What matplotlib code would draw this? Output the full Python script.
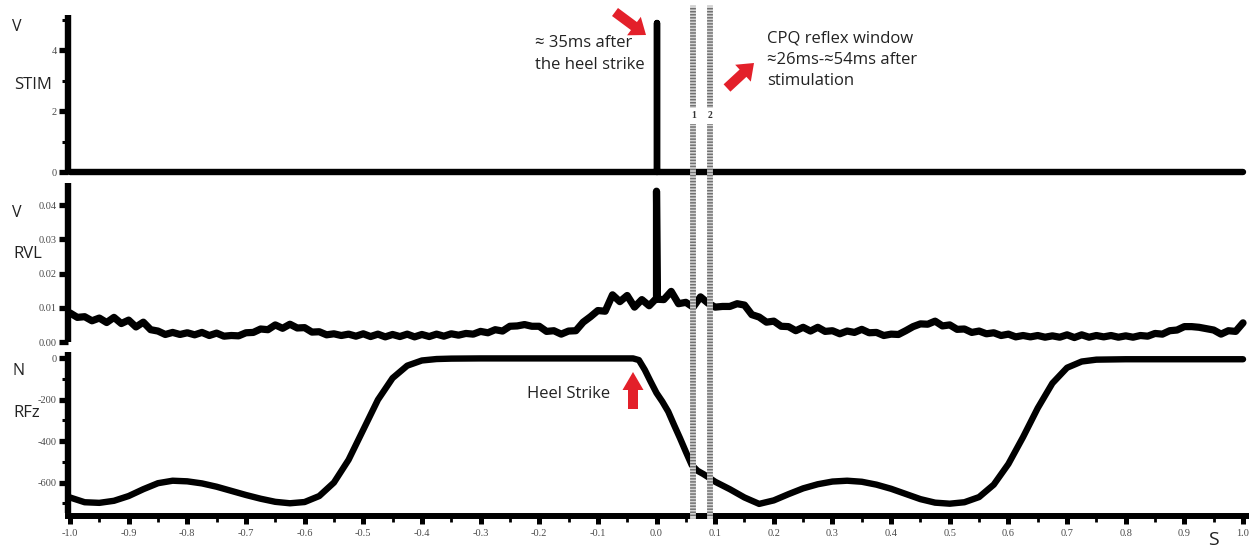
import numpy as np
import matplotlib
matplotlib.use("Agg")
import matplotlib.pyplot as plt
from matplotlib.lines import Line2D
from matplotlib.patches import FancyArrow
from matplotlib.ticker import FormatStrFormatter, MultipleLocator
from matplotlib.transforms import IdentityTransform, blended_transform_factory

plt.rcParams["axes.unicode_minus"] = False

# stimulation pulse (V)
stim_t = [-1.0, 0.0, 0.0, 0.0, 1.0]
stim_v = [0.0, 0.0, 4.9, 0.0, 0.0]

# RVL emg envelope (V), one value every 12.5 ms from -1.0 s to 1.0 s
rvl_v = [
    0.0085, 0.0072, 0.0074, 0.0062, 0.0070, 0.0057, 0.0072, 0.0054,
    0.0064, 0.0044, 0.0058, 0.0036, 0.0032, 0.0022, 0.0028, 0.0022,
    0.0027, 0.0021, 0.0028, 0.0019, 0.0026, 0.0017, 0.0019, 0.0018,
    0.0027, 0.0028, 0.0038, 0.0036, 0.0050, 0.0040, 0.0052, 0.0041,
    0.0042, 0.0029, 0.0030, 0.0021, 0.0024, 0.0019, 0.0023, 0.0017,
    0.0024, 0.0016, 0.0023, 0.0015, 0.0022, 0.0016, 0.0023, 0.0015,
    0.0022, 0.0016, 0.0023, 0.0017, 0.0024, 0.0020, 0.0025, 0.0023,
    0.0031, 0.0027, 0.0036, 0.0032, 0.0046, 0.0047, 0.0051, 0.0046,
    0.0046, 0.0031, 0.0033, 0.0023, 0.0032, 0.0033, 0.0058, 0.0074,
    0.0092, 0.0090, 0.0138, 0.0118, 0.0136, 0.0102, 0.0124, 0.0106,
    0.0128, 0.0124, 0.0148, 0.0112, 0.0116, 0.0102, 0.0132, 0.0114,
    0.0102, 0.0104, 0.0104, 0.0112, 0.0108, 0.0080, 0.0073, 0.0058,
    0.0061, 0.0046, 0.0045, 0.0033, 0.0043, 0.0032, 0.0043, 0.0031,
    0.0033, 0.0024, 0.0032, 0.0028, 0.0037, 0.0027, 0.0028, 0.0019,
    0.0023, 0.0022, 0.0033, 0.0045, 0.0053, 0.0052, 0.0061, 0.0047,
    0.0050, 0.0037, 0.0038, 0.0028, 0.0032, 0.0024, 0.0027, 0.0019,
    0.0023, 0.0015, 0.0019, 0.0015, 0.0019, 0.0014, 0.0018, 0.0014,
    0.0021, 0.0013, 0.0021, 0.0014, 0.0019, 0.0015, 0.0019, 0.0014,
    0.0018, 0.0014, 0.0019, 0.0017, 0.0025, 0.0023, 0.0033, 0.0035,
    0.0045, 0.0045, 0.0043, 0.0039, 0.0035, 0.0023, 0.0033, 0.0031,
    0.0056,
]
# stimulus artefact on the RVL channel
rvl_spike_t = [-0.0015, 0.0, 0.0015]
rvl_spike_v = [0.0125, 0.0441, 0.0125]

# right vertical ground reaction force (N)
rfz_t = [-1.0, -0.975, -0.95, -0.925, -0.9, -0.875, -0.85, -0.825, -0.8,
         -0.775, -0.75, -0.725, -0.7, -0.675, -0.65, -0.625, -0.6, -0.575,
         -0.55, -0.525, -0.5, -0.475, -0.45, -0.425, -0.4, -0.375, -0.35,
         -0.3, -0.2, -0.1, -0.04, -0.03, -0.02, -0.01, 0.0, 0.01, 0.02,
         0.03, 0.04, 0.05, 0.06, 0.07, 0.08, 0.09, 0.1, 0.125, 0.15, 0.175,
         0.2, 0.225, 0.25, 0.275, 0.3, 0.325, 0.35, 0.375, 0.4, 0.425, 0.45,
         0.475, 0.5, 0.525, 0.55, 0.575, 0.6, 0.625, 0.65, 0.675, 0.7, 0.725,
         0.75, 0.8, 0.9, 1.0]
rfz_v = [-672, -695, -698, -688, -665, -632, -603, -591, -594,
         -604, -620, -640, -660, -678, -693, -700, -694, -665,
         -600, -490, -345, -200, -95, -35, -10, -3, -1,
         0, 0, 0, 0, -8, -55, -112, -167, -209, -257,
         -322, -385, -451, -515, -543, -559, -577, -596, -632, -672, -703,
         -686, -656, -628, -608, -595, -591, -596, -610, -630, -655, -680,
         -697, -702, -695, -670, -610, -510, -380, -240, -120, -45, -15,
         -6, -4, -4, -4]

# CPQ reflex window markers (s)
window_t = [0.063, 0.091]
window_lbl = ["1", "2"]

W, H = 1249, 550
fig = plt.figure(figsize=(W / 100, H / 100), dpi=100)


def box(top, bottom, left=68):
    return [left / W, 1 - bottom / H, (W - left) / W, (bottom - top) / H]


ax1 = fig.add_axes(box(15, 172))
ax2 = fig.add_axes(box(183, 342))
ax3 = fig.add_axes(box(352, 513))

lw = 4.6
for ax in (ax1, ax2, ax3):
    ax.set_xlim(-1.0034, 1.0102)
    ax.set_facecolor("none")
    for s in ("top", "right"):
        ax.spines[s].set_visible(False)
    ax.spines["left"].set_position(("outward", 0))
    ax.spines["left"].set_linewidth(4.6)
    ax.spines["left"].set_capstyle("butt")
    ax.tick_params(axis="y", which="major", length=6.5, width=3.8, pad=1.5,
                   labelcolor="#4a4a4a")
    ax.tick_params(axis="y", which="minor", length=4.2, width=2.2)

ax1.spines["bottom"].set_visible(False)
ax2.spines["bottom"].set_visible(False)
ax1.set_xticks([])
ax2.set_xticks([])

# STIM
ax1.plot(stim_t, stim_v, color="black", lw=lw, solid_capstyle="round",
         solid_joinstyle="round", clip_on=False)
ax1.set_ylim(0, 5.15)
ax1.yaxis.set_major_locator(MultipleLocator(2))
ax1.yaxis.set_minor_locator(MultipleLocator(1))
ax1.yaxis.set_major_formatter(FormatStrFormatter("%d"))

# RVL
t_grid = np.linspace(-1.0, 1.0, len(rvl_v))
rvl_t = np.concatenate([t_grid, rvl_spike_t])
rvl_all = np.concatenate([rvl_v, rvl_spike_v])
order = np.argsort(rvl_t, kind="stable")
ax2.plot(rvl_t[order], rvl_all[order], color="black", lw=5.2,
         solid_capstyle="round", solid_joinstyle="round", clip_on=False)
ax2.set_ylim(0, 0.0465)
ax2.yaxis.set_major_locator(MultipleLocator(0.01))
ax2.yaxis.set_major_formatter(FormatStrFormatter("%.2f"))

# RFz
ax3.plot(rfz_t, rfz_v, color="black", lw=lw, solid_capstyle="round",
         solid_joinstyle="round", clip_on=False)
ax3.set_ylim(-747, 31)
ax3.yaxis.set_major_locator(MultipleLocator(200))
ax3.yaxis.set_minor_locator(MultipleLocator(100))
ax3.yaxis.set_major_formatter(FormatStrFormatter("%d"))
ax3.spines["bottom"].set_linewidth(4.3)
ax3.spines["bottom"].set_position(("outward", 2.5))
ax3.xaxis.set_major_locator(MultipleLocator(0.1))
ax3.xaxis.set_minor_locator(MultipleLocator(0.05))
ax3.xaxis.set_major_formatter(FormatStrFormatter("%.1f"))
ax3.tick_params(axis="x", which="major", length=6, width=3.6, pad=3,
                labelcolor="#4a4a4a")
ax3.tick_params(axis="x", which="minor", length=4, width=2)

for ax in (ax1, ax2, ax3):
    for lab in ax.get_xticklabels() + ax.get_yticklabels():
        lab.set_fontfamily("Liberation Serif")
        lab.set_fontsize(7.5)

# reflex window lines across all three channels
trans = blended_transform_factory(ax3.transData, fig.transFigure)
for xv, lbl in zip(window_t, window_lbl):
    y0, y1 = 1 - 516 / H, 1 - 8 / H
    fig.add_artist(Line2D([xv, xv], [y0, y1], transform=trans,
                          color="#d4d4d4", lw=4.2, zorder=10))
    fig.add_artist(Line2D([xv, xv], [y0, y1], transform=trans,
                          color="#707070", lw=4.2, dashes=(0.25, 0.27),
                          zorder=11))
    fig.text(xv, 1 - 116 / H, lbl, transform=trans, ha="center", va="center",
             fontsize=7, fontweight="bold", family="Liberation Serif",
             color="#333333", zorder=12,
             bbox=dict(boxstyle="square,pad=0.35", fc="white", ec="none"))

# channel labels
fam = ["Open Sans", "DejaVu Sans"]
txt = "#222222"


def ftext(x, y, s, size, **kw):
    fig.text(x / W, 1 - y / H, s, fontsize=size, family=fam, color=txt, **kw)


ftext(12, 27, "V", 11.5, va="center")
ftext(14, 85, "STIM", 12, va="center")
ftext(12, 213, "V", 11.5, va="center")
ftext(13, 254, "RVL", 12, va="center")
ftext(12, 371, "N", 11.5, va="center")
ftext(13, 413, "RFz", 12, va="center")
ftext(1208, 540, "S", 14, va="center")

ftext(535, 54, "\u2248 35ms after\nthe heel strike", 12, va="center",
      linespacing=1.45)
ftext(767, 60, "CPQ reflex window\n\u224826ms-\u224854ms after\nstimulation",
      12, va="center", linespacing=1.45)
ftext(527, 394, "Heel Strike", 12, va="center")

# red arrows
red = "#e3202a"
arrows = [
    ((615, 12), (646, 35), 10, 23, 15),
    ((727, 88), (754, 63), 10, 23, 15),
    ((633, 409), (633, 372), 10, 21, 18),
]
for (xa, ya), (xb, yb), w, hw, hl in arrows:
    fig.add_artist(FancyArrow(xa, H - ya, xb - xa, -(yb - ya), width=w,
                              head_width=hw, head_length=hl,
                              length_includes_head=True, color=red,
                              lw=0, transform=IdentityTransform()))

fig.savefig("out.png", dpi=100)
